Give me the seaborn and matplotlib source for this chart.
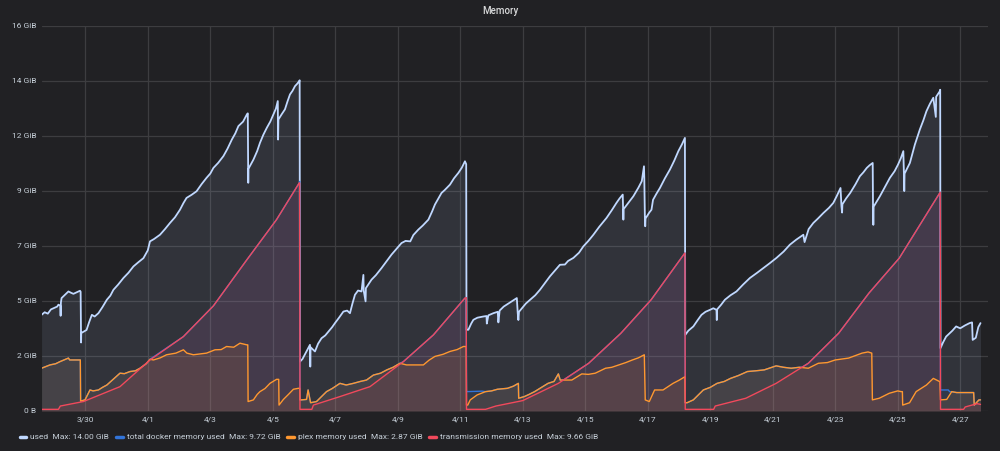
import pandas as pd
import matplotlib
matplotlib.use("Agg")
import matplotlib.pyplot as plt
from matplotlib.lines import Line2D
import seaborn as sns

# time in days after 3/30 00:00, memory in GiB
used_day = [-1.40, -1.30, -1.20, -1.10, -1.02, -0.90, -0.86, -0.80, -0.79, -0.78, -0.76, -0.65, -0.54, -0.45,
            -0.38, -0.25, -0.17, -0.15, -0.14, -0.135, -0.13, 0.04, 0.12, 0.21, 0.30, 0.42, 0.55, 0.69, 0.80,
            0.90, 1.05, 1.22, 1.38, 1.54, 1.70, 1.86, 2.00, 2.07, 2.20, 2.39, 2.55, 2.71, 2.87, 3.03, 3.14,
            3.24, 3.40, 3.56, 3.72, 3.88, 4.00, 4.10, 4.25, 4.42, 4.55, 4.69, 4.80, 4.90, 5.05, 5.17, 5.20,
            5.21, 5.215, 5.22, 5.38, 5.50, 5.59, 5.70, 5.81, 5.92, 6.02, 6.10, 6.16, 6.17, 6.18, 6.28, 6.39,
            6.47, 6.55, 6.63, 6.71, 6.78, 6.85, 6.86,
            6.87, 6.95, 7.05, 7.19, 7.20, 7.21, 7.35, 7.45, 7.56, 7.68, 7.78, 7.90, 7.99, 8.12, 8.26, 8.38,
            8.47, 8.55, 8.63, 8.73, 8.84, 8.90, 8.91, 8.97, 8.98, 9.16, 9.30, 9.48, 9.65, 9.80, 9.95, 10.12,
            10.25, 10.40, 10.50, 10.66, 10.80, 10.98, 11.10, 11.19, 11.30, 11.40, 11.50, 11.67, 11.80, 11.94,
            12.05, 12.15, 12.19,
            12.20, 12.26, 12.35, 12.42, 12.55, 12.74, 12.84, 12.85, 12.90, 13.06, 13.20, 13.22, 13.26, 13.39,
            13.60, 13.81, 13.84, 13.86, 13.88, 14.02, 14.10, 14.23, 14.40, 14.55, 14.70, 14.87, 15.00, 15.19,
            15.35, 15.45, 15.62, 15.80, 15.94, 16.10, 16.26, 16.45, 16.68, 16.85, 17.00, 17.10, 17.20, 17.21,
            17.22, 17.23, 17.40, 17.54, 17.70, 17.81, 17.88, 17.89, 17.91, 17.92, 17.93, 18.05, 18.12, 18.17,
            18.28, 18.39, 18.55, 18.71, 18.85, 18.98, 19.10, 19.19,
            19.20, 19.30, 19.46, 19.60, 19.72, 19.85, 19.99, 20.10, 20.20, 20.21, 20.22, 20.35, 20.47, 20.65,
            20.84, 21.05, 21.27, 21.50, 21.70, 21.90, 22.12, 22.35, 22.55, 22.75, 22.98, 23.02, 23.15, 23.30,
            23.45, 23.62, 23.80, 23.94, 24.05, 24.17, 24.20, 24.22, 24.23, 24.35, 24.48, 24.65, 24.79, 24.90,
            25.01, 25.10, 25.20, 25.21, 25.22, 25.23, 25.43, 25.60, 25.75, 25.90, 26.01, 26.10, 26.18, 26.20,
            26.21, 26.22, 26.39, 26.55, 26.63, 26.71, 26.82, 26.92, 27.03, 27.14, 27.22, 27.23, 27.35, 27.36,
            27.37, 27.45, 27.55, 27.75, 27.87, 28.00, 28.15, 28.30, 28.38, 28.40, 28.50, 28.58, 28.65]
used_gib = [4.07, 4.18, 4.12, 4.30, 4.35, 4.42, 4.50, 4.46, 4.03, 4.60, 4.78, 4.92, 5.06, 5.00,
            4.96, 5.04, 5.09, 5.05, 3.29, 2.90, 3.30, 3.43, 3.75, 4.07, 4.00, 4.14, 4.40, 4.71, 4.88,
            5.13, 5.35, 5.63, 5.85, 6.12, 6.30, 6.47, 6.80, 7.18, 7.28, 7.46, 7.70, 7.96, 8.20, 8.52, 8.80,
            9.02, 9.15, 9.30, 9.60, 9.87, 10.05, 10.29, 10.50, 10.79, 11.10, 11.49, 11.75, 12.06, 12.25, 12.55, 12.60,
            10.29, 9.66, 10.25, 10.64, 11.00, 11.35, 11.70, 11.99, 12.25, 12.55, 12.80, 13.12, 11.49, 12.34, 12.55, 12.77,
            13.10, 13.40, 13.55, 13.75, 13.85, 13.97, 14.00,
            2.09, 2.20, 2.45, 2.80, 1.88, 2.70, 2.52, 2.85, 3.08, 3.20, 3.36, 3.55, 3.72, 3.95, 4.21, 4.25,
            4.14, 4.55, 4.92, 5.10, 5.06, 5.76, 5.10, 4.64, 5.20, 5.56, 5.75, 6.05, 6.35, 6.62, 6.85, 7.11,
            7.20, 7.18, 7.45, 7.68, 7.85, 8.10, 8.45, 8.74, 9.00, 9.23, 9.35, 9.58, 9.85, 10.08,
            10.30, 10.57, 10.45,
            3.44, 3.44, 3.70, 3.86, 3.95, 4.00, 4.02, 3.70, 4.05, 4.14, 4.20, 3.75, 4.25, 4.42,
            4.60, 4.78, 4.14, 3.85, 4.20, 4.42, 4.55, 4.70, 4.90, 5.13, 5.40, 5.70, 5.90, 6.19,
            6.20, 6.35, 6.48, 6.70, 6.97, 7.20, 7.46, 7.80, 8.17, 8.50, 8.81, 9.00, 9.16, 8.52,
            8.10, 8.55, 8.85, 9.09, 9.45, 9.73, 10.36, 9.85, 8.10, 7.82, 8.15, 8.40, 8.52, 8.94,
            9.20, 9.44, 9.85, 10.22, 10.60, 11.00, 11.30, 11.56,
            3.22, 3.40, 3.58, 3.85, 4.07, 4.20, 4.28, 4.35, 4.28, 3.85, 4.30, 4.50, 4.71, 4.90,
            5.06, 5.35, 5.63, 5.85, 6.05, 6.25, 6.48, 6.75, 7.04, 7.25, 7.46, 7.15, 7.70, 7.96,
            8.15, 8.38, 8.60, 8.81, 9.10, 9.44, 8.67, 8.40, 8.75, 9.00, 9.23, 9.60, 9.94, 10.10,
            10.29, 10.40, 10.50, 8.60, 7.88, 8.65, 9.09, 9.50, 9.87, 10.15, 10.43, 10.70, 11.00, 10.01,
            9.31, 10.05, 10.50, 11.28, 11.60, 11.92, 12.30, 12.69, 13.00, 13.26, 12.45, 13.30, 13.54, 13.60,
            2.66, 2.90, 3.15, 3.40, 3.58, 3.50, 3.62, 3.72, 3.75, 3.01, 3.10, 3.55, 3.72]

# docker total sits on top of whichever container is larger
docker_day = [-1.40, -1.13, -0.95, -0.81, -0.54, -0.50, -0.16, -0.15, -0.01, 0.15, 0.25, 0.42, 0.55, 0.69,
              0.90, 1.11, 1.25, 1.43, 1.60, 1.75, 1.95, 2.07, 3.14, 4.10, 5.17, 6.12, 6.85, 6.86,
              6.87, 6.92, 7.08, 7.13, 7.21, 7.40, 7.55, 7.72, 7.90, 8.15, 8.35, 8.58, 8.80, 9.00, 9.22,
              9.45, 9.65, 9.85, 10.07, 10.18, 11.14, 12.15, 12.19,
              12.20, 12.70, 12.81, 13.00, 13.19, 13.51, 13.70, 13.86, 13.87, 14.05, 14.20, 14.38, 14.60,
              14.81, 15.00, 15.14, 15.20, 15.30, 16.11, 17.14, 18.11, 19.19,
              19.20, 19.26, 19.46, 19.78, 20.00, 20.22, 20.45, 20.65, 20.90, 21.19, 21.45, 21.73, 22.11,
              22.35, 22.59, 22.85, 22.95, 23.14, 24.11, 25.08, 26.05, 27.36,
              27.37, 27.62, 27.66, 27.89, 28.43, 28.45, 28.60, 28.65]
docker_gib = [1.81, 1.95, 2.00, 2.09, 2.24, 2.16, 2.16, 0.42, 0.47, 0.89, 0.85, 0.89, 1.00, 1.10,
              1.35, 1.60, 1.58, 1.67, 1.70, 1.81, 2.00, 2.19, 3.15, 4.45, 6.40, 8.10, 9.66, 9.72,
              0.47, 0.47, 0.49, 0.89, 0.35, 0.40, 0.60, 0.82, 0.95, 1.17, 1.10, 1.17, 1.25, 1.31, 1.52,
              1.60, 1.74, 1.85, 2.02, 2.09, 3.22, 4.78, 4.80,
              0.82, 0.84, 0.82, 0.85, 0.92, 0.96, 1.05, 1.17, 0.54, 0.61, 0.70, 0.82, 1.00,
              1.17, 1.25, 1.57, 1.31, 1.31, 2.02, 3.29, 4.71, 6.69,
              0.35, 0.35, 0.47, 0.89, 1.00, 1.17, 1.25, 1.38, 1.50, 1.67, 1.70, 1.74, 1.91,
              1.85, 1.81, 1.85, 1.86, 2.02, 3.29, 4.99, 6.47, 9.26,
              0.89, 0.89, 0.82, 0.78, 0.78, 0.25, 0.47, 0.47]

plex_day = [-1.40, -1.13, -0.95, -0.81, -0.54, -0.50, -0.16, -0.15, -0.01, 0.15, 0.25, 0.42, 0.55, 0.69,
            0.90, 1.11, 1.25, 1.43, 1.60, 1.75, 1.95, 2.07, 2.18, 2.40, 2.60, 2.90, 3.14, 3.25, 3.46, 3.70,
            3.88, 4.15, 4.35, 4.52, 4.75, 4.95, 5.17, 5.20, 5.21, 5.38, 5.50, 5.59, 5.75, 5.91, 6.12, 6.19,
            6.20, 6.34, 6.50, 6.66, 6.82, 6.86,
            6.87, 6.92, 7.08, 7.13, 7.21, 7.40, 7.55, 7.72, 7.90, 8.15, 8.35, 8.58, 8.80, 9.00, 9.22, 9.45,
            9.65, 9.85, 10.07, 10.28, 10.55, 10.82, 11.00, 11.19, 11.45, 11.67, 11.90, 12.10, 12.19,
            12.20, 12.24, 12.32, 12.54, 12.81, 13.00, 13.19, 13.51, 13.70, 13.86, 13.87, 14.05, 14.20, 14.38,
            14.60, 14.81, 15.00, 15.14, 15.20, 15.57, 15.89, 16.10, 16.32, 16.65, 16.85, 17.08, 17.30, 17.51,
            17.70, 17.89, 17.92, 18.05, 18.22, 18.49, 18.81, 19.00, 19.19,
            19.20, 19.26, 19.46, 19.78, 20.00, 20.22, 20.45, 20.65, 20.90, 21.19, 21.45, 21.73, 22.11, 22.35,
            22.59, 22.85, 23.14, 23.46, 23.75, 24.00, 24.43, 24.86, 25.05, 25.17, 25.19, 25.41, 25.73, 26.00,
            26.11, 26.15, 26.16, 26.38, 26.59, 26.92, 27.14, 27.35,
            27.37, 27.57, 27.73, 27.89, 28.43, 28.45, 28.60, 28.65]
plex_gib = [1.81, 1.95, 2.00, 2.09, 2.24, 2.16, 2.16, 0.42, 0.47, 0.89, 0.85, 0.89, 1.00, 1.10,
            1.35, 1.60, 1.58, 1.67, 1.70, 1.81, 2.00, 2.19, 2.16, 2.25, 2.38, 2.45, 2.59, 2.45, 2.38, 2.42,
            2.45, 2.59, 2.60, 2.73, 2.70, 2.87, 2.80, 2.80, 0.40, 0.47, 0.70, 0.82, 0.95, 1.17, 1.34, 1.34,
            0.25, 0.49, 0.70, 0.92, 0.96, 0.96,
            0.47, 0.47, 0.49, 0.89, 0.35, 0.40, 0.60, 0.82, 0.95, 1.17, 1.10, 1.17, 1.25, 1.31, 1.52, 1.60,
            1.74, 1.85, 2.02, 1.95, 1.95, 1.95, 2.15, 2.31, 2.40, 2.52, 2.60, 2.73, 2.73,
            0.25, 0.25, 0.47, 0.68, 0.82, 0.85, 0.92, 0.96, 1.05, 1.17, 0.54, 0.61, 0.70, 0.82,
            1.00, 1.17, 1.25, 1.57, 1.31, 1.31, 1.57, 1.55, 1.60, 1.81, 1.85, 1.95, 2.05, 2.16,
            2.25, 2.38, 0.47, 0.40, 0.89, 0.89, 1.17, 1.30, 1.45,
            0.35, 0.35, 0.47, 0.89, 1.00, 1.17, 1.25, 1.38, 1.50, 1.67, 1.70, 1.74, 1.91, 1.85,
            1.81, 1.85, 1.81, 2.02, 2.05, 2.16, 2.24, 2.45, 2.50, 2.45, 0.47, 0.54, 0.75, 0.85,
            0.82, 0.82, 0.25, 0.35, 0.82, 1.10, 1.38, 1.24,
            0.47, 0.49, 0.82, 0.78, 0.78, 0.25, 0.47, 0.47]

trans_day = [-1.40, -0.86, -0.80, -0.06, 1.11, 2.07, 3.14, 4.10, 5.17, 6.12, 6.85, 6.86,
             6.87, 7.25, 7.30, 8.15, 9.11, 10.18, 11.14, 12.15, 12.19,
             12.20, 12.81, 13.14, 14.00, 15.14, 16.11, 17.14, 18.11, 19.19,
             19.20, 20.11, 20.16, 21.14, 22.11, 23.14, 24.11, 25.08, 26.05, 27.36,
             27.37, 28.11, 28.16, 28.54, 28.65]
trans_gib = [0.07, 0.07, 0.21, 0.40, 1.03, 2.16, 3.15, 4.45, 6.40, 8.10, 9.66, 9.66,
             0.07, 0.07, 0.25, 0.61, 1.03, 2.09, 3.22, 4.78, 4.80,
             0.07, 0.07, 0.21, 0.44, 1.17, 2.02, 3.29, 4.71, 6.69,
             0.07, 0.07, 0.21, 0.54, 1.17, 2.02, 3.29, 4.99, 6.47, 9.26,
             0.07, 0.07, 0.17, 0.31, 0.28]

series_names = ["used", "total docker memory used", "plex memory used", "transmission memory used"]
series_max = ["14.00 GiB", "9.72 GiB", "2.87 GiB", "9.66 GiB"]
series_colors = ["#C0D8FF", "#3274D9", "#FF9830", "#F2495C"]

date_labels = ["3/30", "4/1", "4/3", "4/5", "4/7", "4/9", "4/11", "4/13", "4/15",
               "4/17", "4/19", "4/21", "4/23", "4/25", "4/27"]
y_labels = ["0 B", "2 GiB", "5 GiB", "7 GiB", "9 GiB", "12 GiB", "14 GiB", "16 GiB"]

bg = "#212124"
text_col = "#c7d0d9"

sns.set_style("dark", {"axes.facecolor": bg, "figure.facecolor": bg})
plt.rcParams["font.family"] = ["Roboto", "DejaVu Sans"]

start = pd.Timestamp("2020-03-30")
frames = []
for name, d, g in zip(series_names,
                      [used_day, docker_day, plex_day, trans_day],
                      [used_gib, docker_gib, plex_gib, trans_gib]):
    frames.append(pd.DataFrame({"time": start + pd.to_timedelta(d, unit="D"),
                                "gib": g, "series": name}))
data = pd.concat(frames, ignore_index=True)

fig = plt.figure(figsize=(10, 4.51), dpi=100)
ax = fig.add_axes([0.042, 0.0887, 0.946, 0.8537])
ax.set_facecolor(bg)

widths = [1.3, 1.0, 1.0, 1.0]
for name, col, lw in zip(series_names, series_colors, widths):
    df = data[data["series"] == name]
    ax.fill_between(df["time"], 0, df["gib"], color=col, alpha=0.1, linewidth=0)
    sns.lineplot(data=df, x="time", y="gib", color=col, linewidth=lw,
                 estimator=None, sort=False, ax=ax, legend=False)

# y ticks every 2.5 GB, labelled in rounded GiB like grafana does
ax.set_ylim(0, 17.5e9 / 2**30)
ax.set_yticks([k * 2.5e9 / 2**30 for k in range(len(y_labels))])
ax.set_yticklabels(y_labels)
ax.set_xlim(start - pd.Timedelta(days=1.386), start + pd.Timedelta(days=28.89))
ax.set_xticks(pd.date_range(start, periods=len(date_labels), freq="2D"))
ax.set_xticklabels(date_labels)
ax.set_xlabel("")
ax.set_ylabel("")

ax.grid(True, color="#3d3d40", linewidth=0.9)
ax.tick_params(length=0, colors=text_col, labelsize=6.0, pad=4)
for s in ax.spines.values():
    s.set_visible(False)

fig.text(0.5, 0.976, "Memory", ha="center", va="center", color="#d8d9da",
         fontsize=7, fontweight="medium")

handles = [Line2D([0], [0], color=c, linewidth=2.5, solid_capstyle="round") for c in series_colors]
labels = [f"{n}  Max: {m}" for n, m in zip(series_names, series_max)]
fig.legend(handles, labels, loc="center left", bbox_to_anchor=(0.012, 1 - 437 / 451),
           ncol=4, frameon=False, fontsize=6.0, handlelength=0.8, handletextpad=0.5,
           columnspacing=0.8, labelcolor=text_col)

fig.savefig("out.png", dpi=100, facecolor=bg)
